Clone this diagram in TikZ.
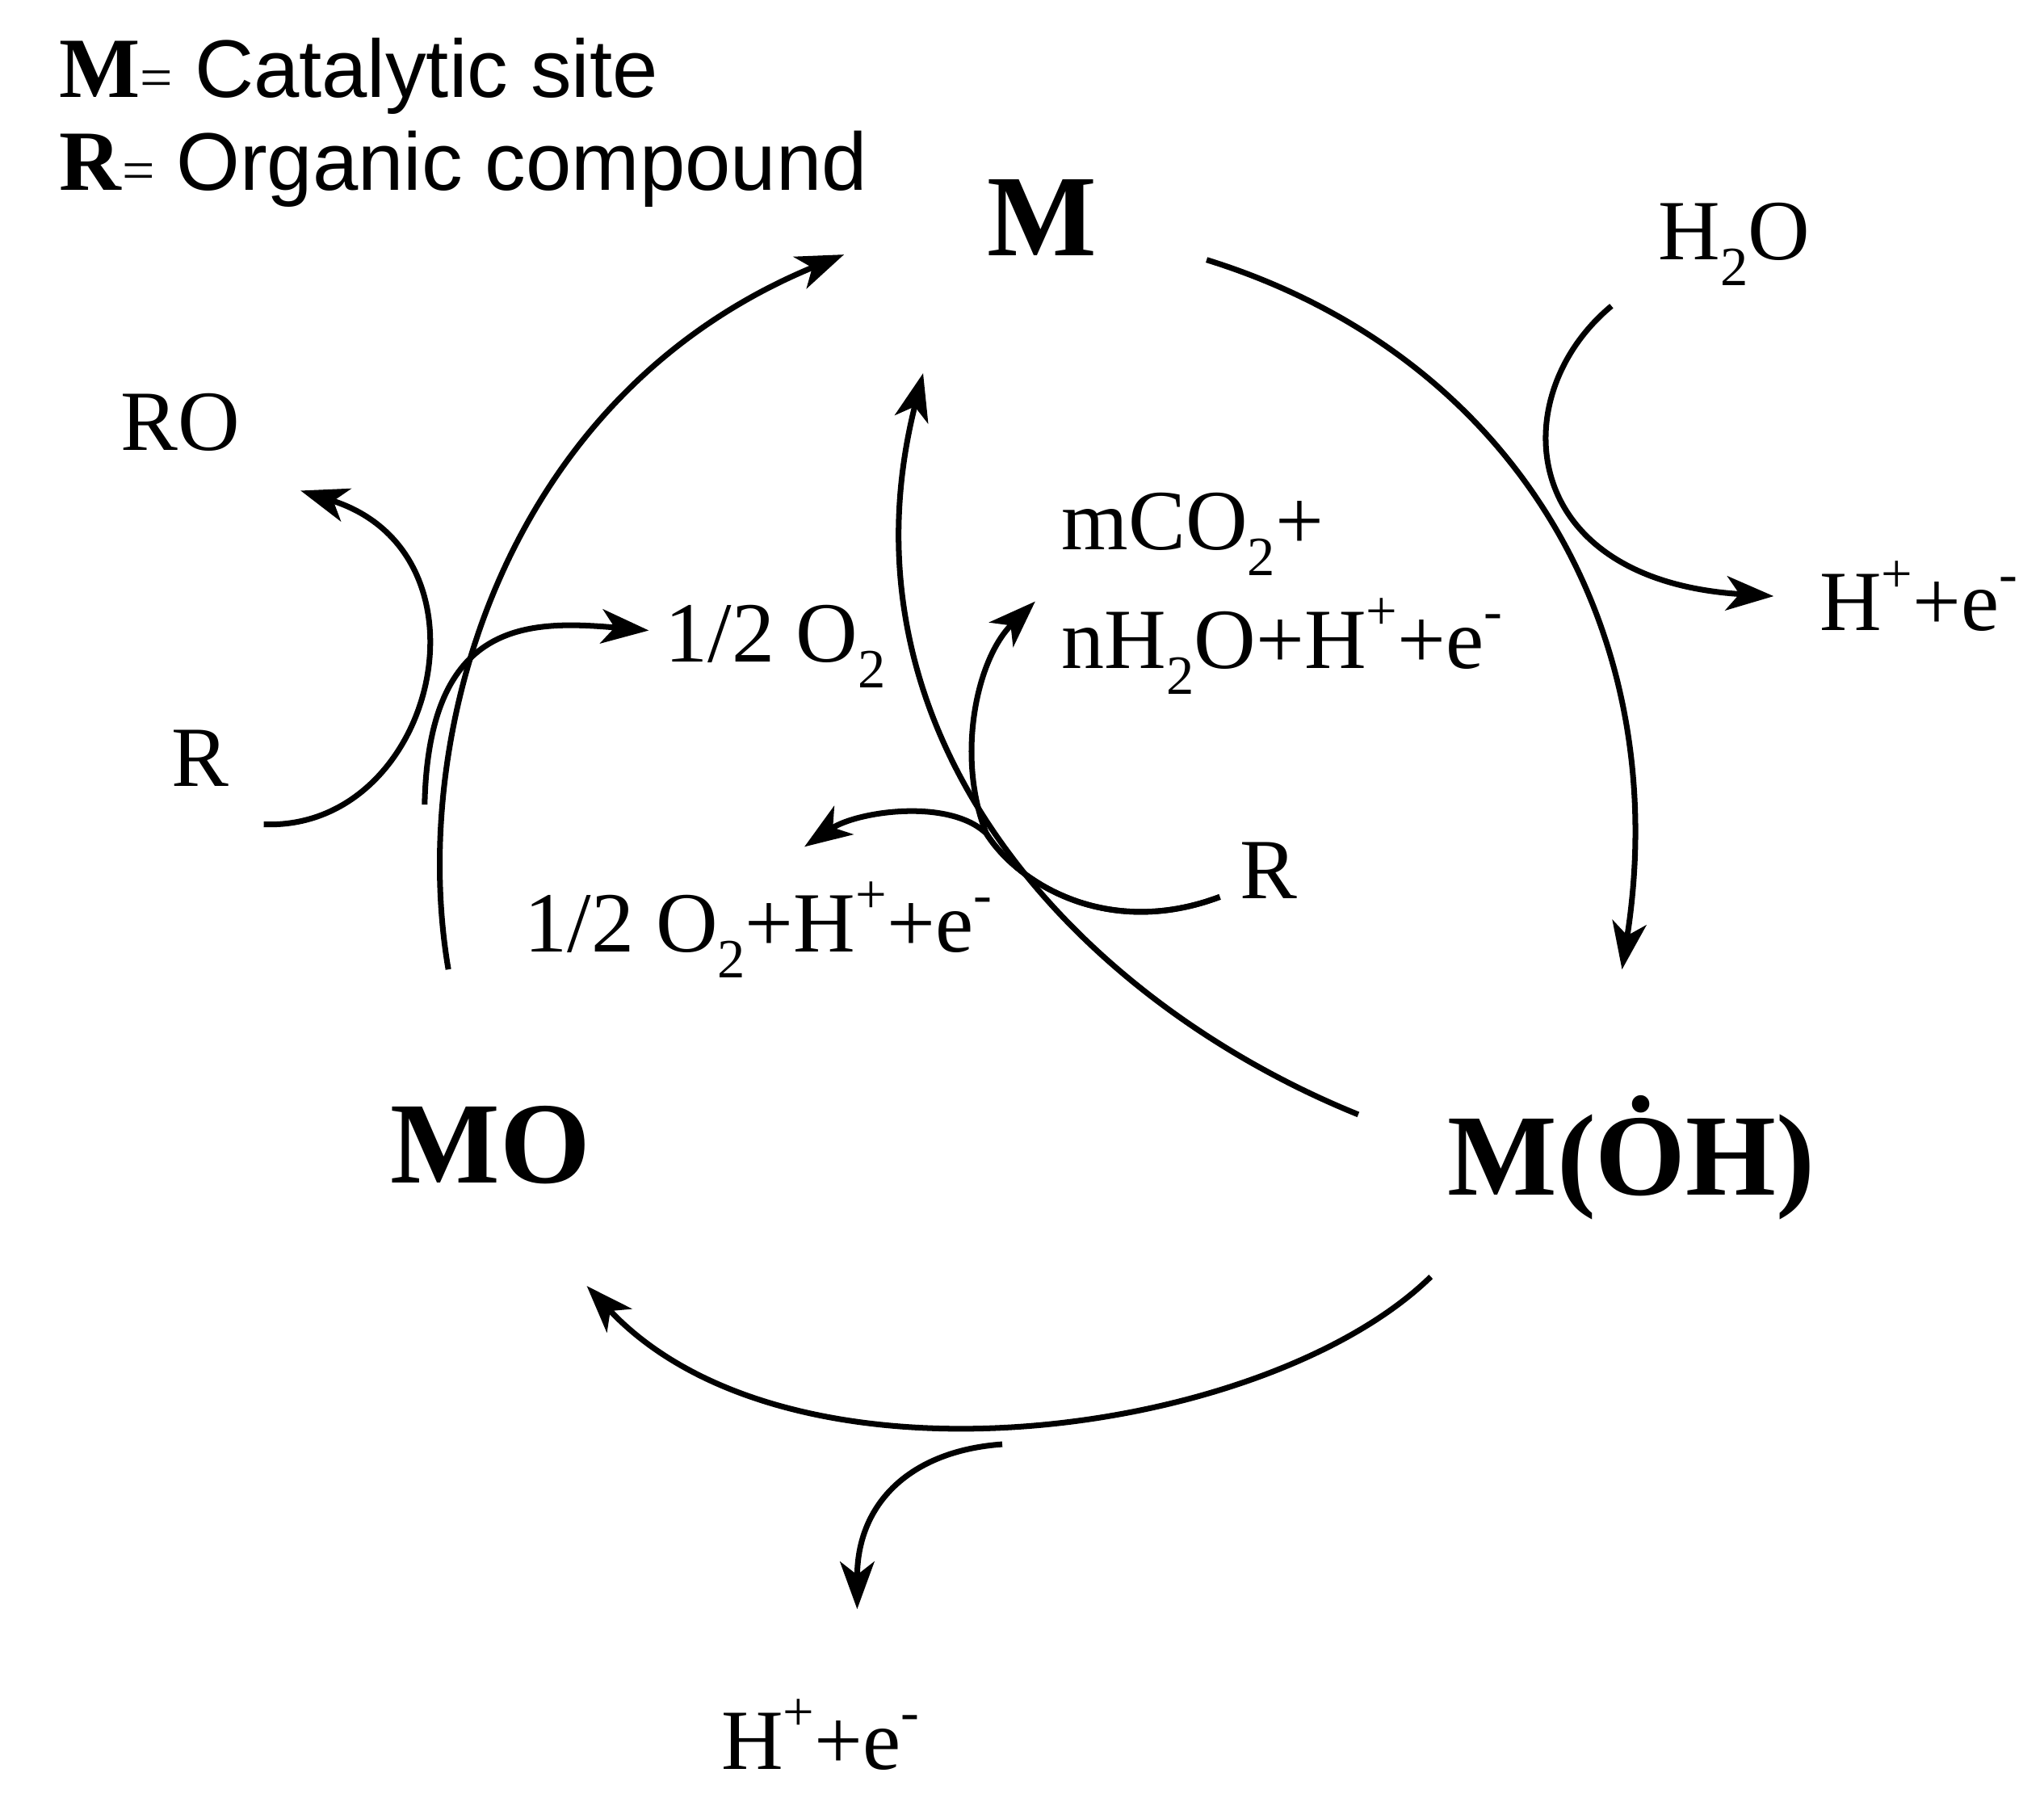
\documentclass[tikz,border=0pt]{standalone}
\usepackage{fontspec}
\setmainfont{Liberation Serif}
\newfontfamily\legsans{Liberation Sans}
\usetikzlibrary{arrows.meta}
\newcommand{\sbs}[1]{\raisebox{-0.3em}{\fontsize{42}{44}\selectfont #1}}
\newcommand{\sps}[1]{\raisebox{0.45em}{\fontsize{42}{44}\selectfont #1}}
\begin{document}
\begin{tikzpicture}[x=1pt,y=-1pt,
  ln/.style={line width=4.3pt},
  ar/.style={ln,-{Stealth[length=36pt,width=26pt,inset=10pt]}},
  lab/.style={font=\fontsize{65}{72}\selectfont,inner sep=0pt},
  big/.style={font=\fontsize{88}{96}\selectfont\bfseries,inner sep=0pt}]
\useasboundingbox (0,0) rectangle (1550,1363);
% legend
\node[lab,anchor=west] (l1) at (45,58) {\textbf{M}{\fontsize{44}{44}\selectfont =}~{\legsans\fontsize{62}{66}\selectfont Catalytic site}};
\node[lab,anchor=west] (l2) at (45,128) {\textbf{R}{\fontsize{44}{44}\selectfont =}~{\legsans\fontsize{62}{66}\selectfont Organic compound}};
% species
\node[big] (M) at (790,165) {M};
\node[big] (MO) at (372,868) {MO};
\node[big] (MOH) at (1237,878) {M(\.{O}H)};
\node[lab] (h2o) at (1315,185) {H\sbs{2}O};
\node[lab] (he1) at (1455,452) {H\sps{+}+e\sps{-}};
\node[lab] (he2) at (622,1315) {H\sps{+}+e\sps{-}};
\node[lab] (ro) at (137,320) {RO};
\node[lab] (r1) at (152,575) {R};
\node[lab] (o2) at (588,490) {1/2 O\sbs{2}};
\node[lab,anchor=west] (mco1) at (805,405) {mCO\sbs{2}+};
\node[lab,anchor=west] (mco2) at (805,490) {nH\sbs{2}O+H\sps{+}+e\sps{-}};
\node[lab] (r2) at (962,660) {R};
\node[lab] (o2h) at (575,705) {1/2 O\sbs{2}+H\sps{+}+e\sps{-}};
% main cycle
\coordinate (a1) at (915,197);
\coordinate (a2) at (1230,735);
\draw[ar] (a1) .. controls (1150,270) and (1270,480) .. (a2);
\coordinate (b1) at (1085,968);
\coordinate (b2) at (445,975);
\coordinate (bm) at (760,1095);
\draw[ar] (b1) .. controls (960,1090) and (600,1140) .. (b2);
\coordinate (c1) at (340,735);
\coordinate (c2) at (640,193);
\draw[ar] (c1) .. controls (310,560) and (380,300) .. (c2);
% H2O branch
\coordinate (w1) at (1222,232);
\coordinate (w2) at (1345,452);
\draw[ar] (w1) .. controls (1140,300) and (1150,440) .. (w2);
% bottom branch
\coordinate (d2) at (650,1220);
\draw[ar] (bm) .. controls (690,1100) and (650,1140) .. (d2);
% left R -> RO
\coordinate (e1) at (200,625);
\coordinate (e2) at (228,372);
\draw[ar] (e1) .. controls (330,630) and (380,420) .. (e2);
\coordinate (f1) at (322,610);
\coordinate (f2) at (492,478);
\draw[ar] (f1) .. controls (325,470) and (400,470) .. (f2);
% inner arc
\coordinate (g1) at (1030,845);
\coordinate (g2) at (700,283);
\draw[ar] (g1) .. controls (820,760) and (630,560) .. (g2);
% right R branches
\coordinate (h1) at (925,680);
\coordinate (hm) at (748,632);
\coordinate (h2) at (785,456);
\coordinate (h3) at (610,642);
\draw[ar] (h1) .. controls (840,712) and (772,670) .. (hm) .. controls (725,575) and (740,500) .. (h2);
\draw[ar] (h1) .. controls (840,712) and (772,670) .. (hm) .. controls (720,605) and (650,615) .. (h3);
\end{tikzpicture}
\end{document}
